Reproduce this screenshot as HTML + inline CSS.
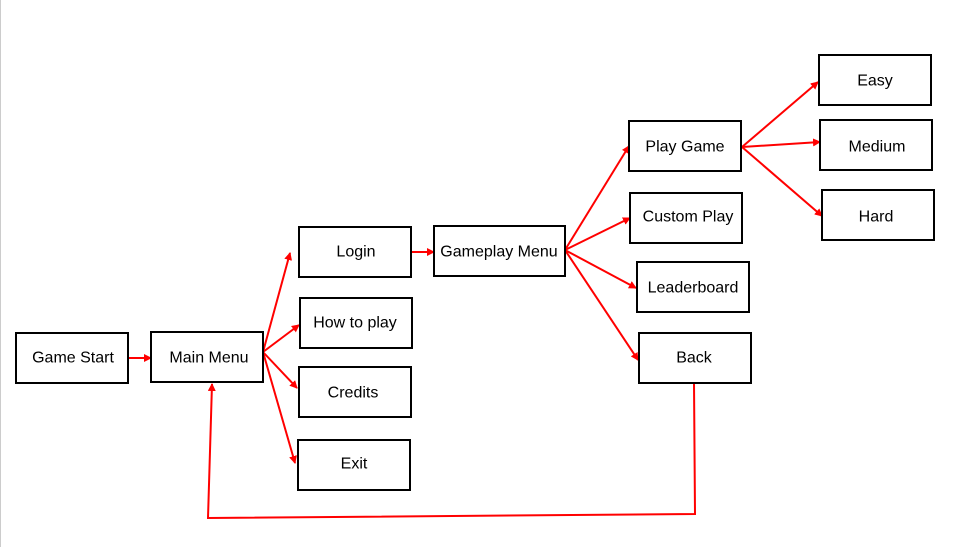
<!DOCTYPE html>
<html><head><meta charset="utf-8"><style>
body{margin:0;background:#fff;}
svg{display:block}
text{font-family:"Liberation Sans",sans-serif;font-size:16px;fill:#000;text-anchor:middle;dominant-baseline:central}
rect{fill:#fff;stroke:#000;stroke-width:2}
line,polyline{stroke:#f00;stroke-width:2;fill:none}
</style></head><body>
<svg width="955" height="547" viewBox="0 0 955 547">
<defs><marker id="a" markerWidth="8" markerHeight="8" refX="7" refY="4" orient="auto" markerUnits="userSpaceOnUse"><path d="M0,0 L8,4 L0,8 z" fill="#f00"/></marker></defs>
<line x1="0.5" y1="0" x2="0.5" y2="547" style="stroke:#ccc;stroke-width:1"/>
<line x1="128" y1="358" x2="151" y2="358" marker-end="url(#a)"/>
<line x1="263" y1="352" x2="290" y2="253" marker-end="url(#a)"/>
<line x1="263" y1="352" x2="299" y2="325" marker-end="url(#a)"/>
<line x1="263" y1="352" x2="297" y2="388" marker-end="url(#a)"/>
<line x1="263" y1="352" x2="295" y2="463" marker-end="url(#a)"/>
<line x1="411" y1="252" x2="434" y2="252" marker-end="url(#a)"/>
<line x1="565" y1="250" x2="629" y2="146" marker-end="url(#a)"/>
<line x1="565" y1="250" x2="630" y2="218" marker-end="url(#a)"/>
<line x1="565" y1="250" x2="636" y2="288" marker-end="url(#a)"/>
<line x1="565" y1="250" x2="638" y2="360" marker-end="url(#a)"/>
<line x1="742" y1="147" x2="818" y2="82" marker-end="url(#a)"/>
<line x1="742" y1="147" x2="820" y2="142" marker-end="url(#a)"/>
<line x1="742" y1="147" x2="822" y2="216" marker-end="url(#a)"/>
<polyline points="694,383 695,514 208,518 212,384" marker-end="url(#a)"/>
<rect x="16" y="333" width="112" height="50"/><text x="73" y="358">Game Start</text>
<rect x="151" y="332" width="112" height="50"/><text x="209" y="358">Main Menu</text>
<rect x="299" y="227" width="112" height="50"/><text x="356" y="252">Login</text>
<rect x="300" y="298" width="112" height="50"/><text x="355" y="323">How to play</text>
<rect x="299" y="367" width="112" height="50"/><text x="353" y="393">Credits</text>
<rect x="298" y="440" width="112" height="50"/><text x="354" y="464">Exit</text>
<rect x="434" y="226" width="131" height="50"/><text x="499" y="252">Gameplay Menu</text>
<rect x="629" y="121" width="112" height="50"/><text x="685" y="147">Play Game</text>
<rect x="630" y="193" width="112" height="50"/><text x="688" y="217">Custom Play</text>
<rect x="637" y="262" width="112" height="50"/><text x="693" y="288">Leaderboard</text>
<rect x="639" y="333" width="112" height="50"/><text x="694" y="358">Back</text>
<rect x="819" y="55" width="112" height="50"/><text x="875" y="81">Easy</text>
<rect x="820" y="120" width="112" height="50"/><text x="877" y="147">Medium</text>
<rect x="822" y="190" width="112" height="50"/><text x="876" y="217">Hard</text>
</svg>
</body></html>
